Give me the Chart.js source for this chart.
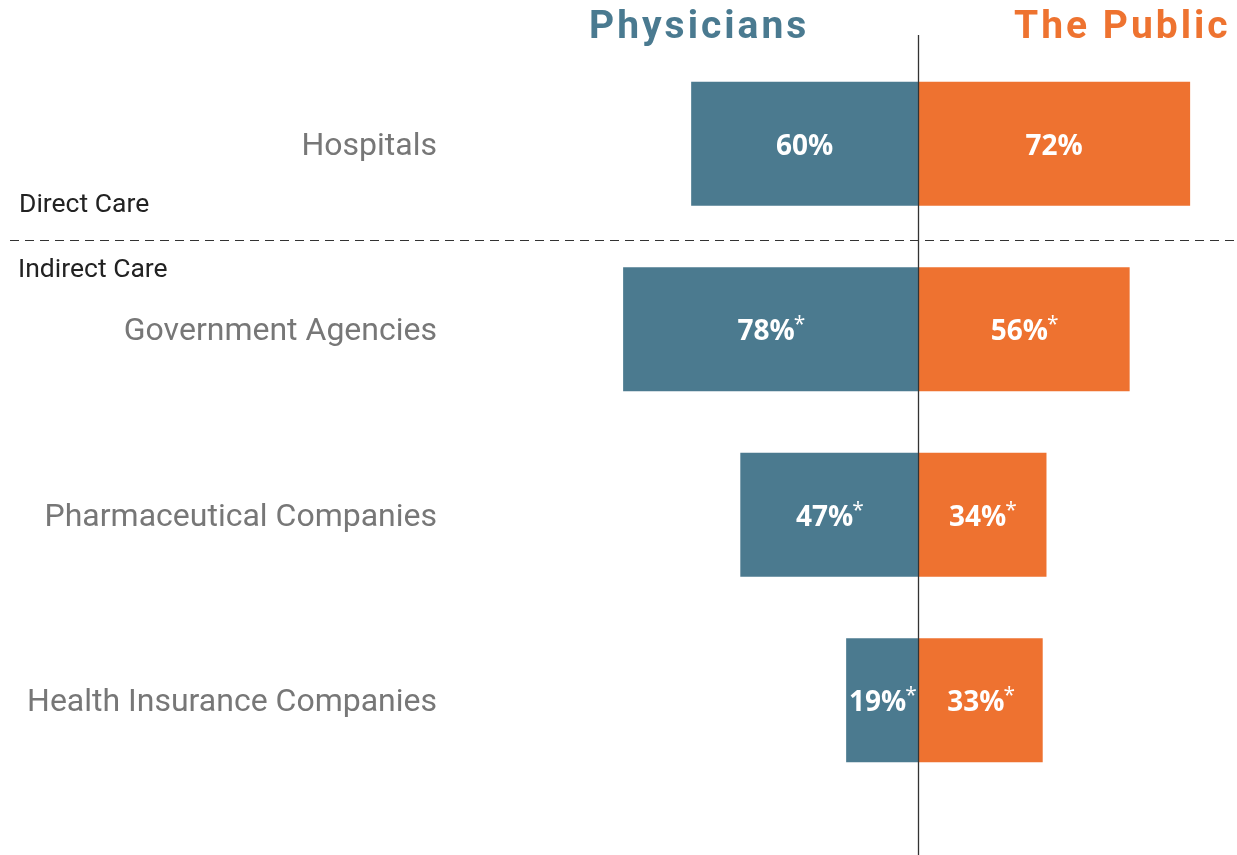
<!DOCTYPE html>
<html>
<head>
<meta charset="utf-8">
<script src="https://cdn.jsdelivr.net/npm/chart.js@4"></script>
<style>
  body { margin: 0; background: #fff; }
  #wrap { position: relative; width: 1237px; height: 855px; }
  .title { position: absolute; top: 2px; font-family: Roboto; font-weight: 700; font-size: 39px; letter-spacing: 3px; }
  .group { position: absolute; font-family: Roboto; font-size: 26.5px; color: #222; }
</style>
</head>
<body>
<div id="wrap">
  <canvas id="chart" width="1237" height="855"></canvas>
  <div class="title" style="left:589px;color:#4a7a90">Physicians</div>
  <div class="title" style="left:1014px;color:#ee7330">The Public</div>
  <div class="group" style="left:19px;top:187px">Direct Care</div>
  <div class="group" style="left:18px;top:252px">Indirect Care</div>
</div>
<script>
// categories and values
const categories = ['Hospitals', 'Government Agencies', 'Pharmaceutical Companies', 'Health Insurance Companies'];
const physicians = [60, 78, 47, 19];
const publicVals = [72, 56, 34, 33];
const starred = [false, true, true, true];

const blue = '#4b7a8f';
const orange = '#ee7230';

// white labels inside bars, asterisk as superscript
const barLabels = {
  id: 'barLabels',
  afterDatasetsDraw(chart) {
    const ctx = chart.ctx;
    ctx.save();
    ctx.fillStyle = '#fff';
    ctx.textBaseline = 'middle';
    chart.data.datasets.forEach((ds, di) => {
      chart.getDatasetMeta(di).data.forEach((bar, i) => {
        const txt = Math.abs(ds.data[i]) + '%';
        const cx = (bar.x + bar.base) / 2;
        ctx.font = 'bold 28px "Open Sans"';
        const w = ctx.measureText(txt).width;
        const starW = starred[i] ? 9 : 0;
        let x = cx - (w + starW) / 2;
        if (di === 0 && x + w + starW > bar.base - 1) x = bar.base - w - starW - 1;
        ctx.textAlign = 'left';
        ctx.fillText(txt, x, bar.y + 3);
        if (starred[i]) {
          ctx.font = '21px "Open Sans"';
          ctx.fillText('*', x + w - 1, bar.y - 4);
        }
      });
    });
    ctx.restore();
  }
};

// centre line and dashed divider
const guides = {
  id: 'guides',
  afterDraw(chart) {
    const ctx = chart.ctx;
    const x0 = Math.round(chart.scales.x.getPixelForValue(0)) + 0.5;
    const y = chart.scales.y;
    const mid = (y.getPixelForValue(0) + y.getPixelForValue(1)) / 2 + 3;
    ctx.save();
    ctx.strokeStyle = '#333';
    ctx.lineWidth = 1.3;
    ctx.beginPath();
    ctx.moveTo(x0, 35);
    ctx.lineTo(x0, 855);
    ctx.stroke();
    ctx.setLineDash([9, 6]);
    ctx.lineWidth = 1.2;
    ctx.beginPath();
    ctx.moveTo(10, Math.round(mid) + 0.5);
    ctx.lineTo(1237, Math.round(mid) + 0.5);
    ctx.stroke();
    ctx.restore();
  }
};

new Chart(document.getElementById('chart'), {
  type: 'bar',
  data: {
    labels: categories,
    datasets: [
      { label: 'Physicians', data: physicians.map(v => -v), backgroundColor: blue },
      { label: 'The Public', data: publicVals, backgroundColor: orange }
    ]
  },
  options: {
    indexAxis: 'y',
    responsive: false,
    animation: false,
    layout: { padding: { top: 51, bottom: 62, right: 0, left: 0 } },
    categoryPercentage: 0.668,
    barPercentage: 1,
    plugins: { legend: { display: false }, tooltip: { enabled: false } },
    scales: {
      x: {
        stacked: true, min: -123.8, max: 84.4,
        display: false
      },
      y: {
        stacked: true,
        grid: { display: false },
        border: { display: false },
        ticks: { color: '#777', font: { family: 'Roboto', size: 32 }, padding: 5, labelOffset: 3 },
        afterFit(axis) { axis.width = 450; }
      }
    }
  },
  plugins: [barLabels, guides]
});
</script>
</body>
</html>
